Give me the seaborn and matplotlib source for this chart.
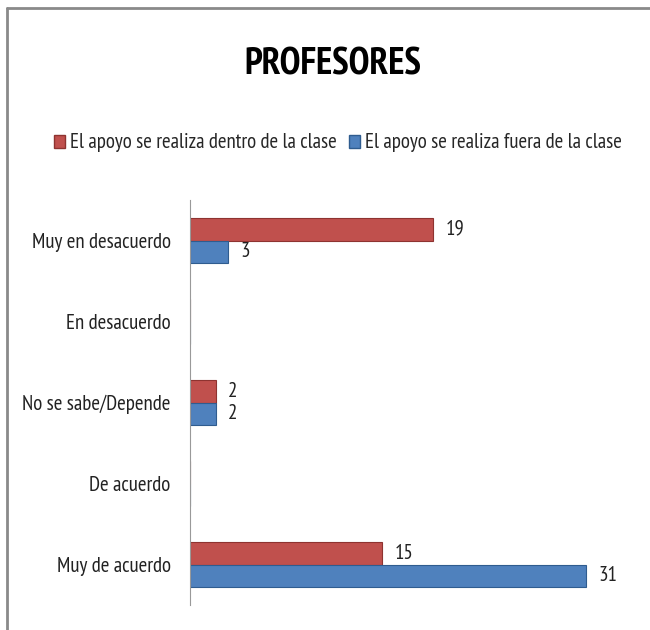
import matplotlib
matplotlib.use("Agg")
import matplotlib.pyplot as plt
from matplotlib.lines import Line2D
import pandas as pd
import seaborn as sns

# =========================
# Data
# =========================
categories = ["Muy en desacuerdo", "En desacuerdo", "No se sabe/Depende",
              "De acuerdo", "Muy de acuerdo"]
series_names = ["El apoyo se realiza dentro de la clase",
                "El apoyo se realiza fuera de la clase"]
dentro = [19, 0, 2, 0, 15]
fuera = [3, 0, 2, 0, 31]

df = pd.DataFrame({
    "categoria": categories * 2,
    "serie": [series_names[0]] * len(categories) + [series_names[1]] * len(categories),
    "valor": dentro + fuera,
})

# =========================
# Style
# =========================
sns.set_style("white")
plt.rcParams["font.family"] = ["PT Sans Narrow", "DejaVu Sans"]

colors = {series_names[0]: "#C0504D", series_names[1]: "#4F81BD"}
edges = {series_names[0]: "#8E3330", series_names[1]: "#2F5C8F"}

fig = plt.figure(figsize=(6.5, 6.3), dpi=100)
ax = fig.add_axes([190 / 650, 1 - 605 / 630, 422 / 650, 405 / 630])

sns.barplot(data=df, y="categoria", x="valor", hue="serie",
            order=categories, hue_order=series_names, palette=colors,
            saturation=1, orient="h", width=0.56, ax=ax, legend=False)

for container, name in zip(ax.containers, series_names):
    for bar in container:
        bar.set_edgecolor(edges[name])
        bar.set_linewidth(0.8)
    vals = [b.get_width() for b in container]
    ax.bar_label(container, labels=[f"{v:.0f}" if v > 0 else "" for v in vals],
                 padding=9, fontsize=15, color="#222222")

ax.set_xlim(0, 33)
ax.set_xlabel("")
ax.set_ylabel("")
ax.set_xticks([])
ax.tick_params(axis="y", length=0, pad=14, labelsize=15, labelcolor="#222222")
for side in ["top", "right", "bottom"]:
    ax.spines[side].set_visible(False)
ax.spines["left"].set_color("#999999")
ax.spines["left"].set_linewidth(0.8)

# legend
handles = [plt.Rectangle((0, 0), 1, 1, facecolor=colors[n], edgecolor=edges[n])
           for n in series_names]
fig.legend(handles, series_names, loc="center", bbox_to_anchor=(338 / 650, 1 - 143 / 630),
           ncol=2, frameon=False, fontsize=15, handlelength=0.5, handleheight=0.6,
           handletextpad=0.25, columnspacing=0.6)

fig.text(333 / 650, 1 - 65 / 630, "PROFESORES", ha="center", va="center",
         fontsize=27, fontweight="bold", color="black")

# chart frame (top and left edges)
fig.add_artist(Line2D([7 / 650, 1], [1 - 8 / 630, 1 - 8 / 630], color="#8a8a8a", lw=2))
fig.add_artist(Line2D([7 / 650, 7 / 650], [0, 1 - 8 / 630], color="#8a8a8a", lw=2))

fig.savefig("out.png", dpi=100)
